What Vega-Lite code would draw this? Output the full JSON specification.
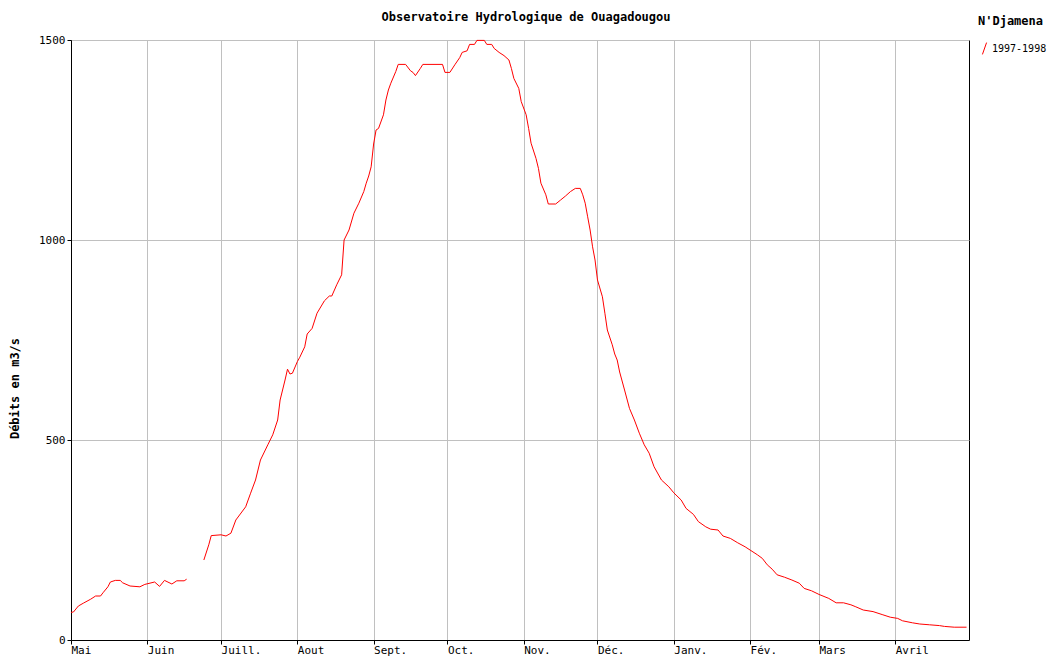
{
  "$schema": "https://vega.github.io/schema/vega-lite/v6.json",
  "description": "Débits journaliers à N'Djamena, 1997-1998.",
  "autosize": "none",
  "width": 898,
  "height": 600,
  "padding": {"left": 71, "top": 40, "right": 81, "bottom": 20},
  "background": "white",
  "title": {
    "text": "Observatoire Hydrologique de Ouagadougou",
    "font": "DejaVu Sans Mono",
    "fontSize": 12,
    "fontWeight": "bold",
    "color": "black",
    "anchor": "middle",
    "offset": 16,
    "dy": 24,
    "dx": 6
  },
  "config": {
    "view": {"stroke": "black", "strokeWidth": 1},
    "axis": {
      "labelFont": "DejaVu Sans Mono",
      "labelFontSize": 11,
      "labelColor": "black",
      "tickColor": "black",
      "tickSize": 4,
      "domainColor": "black",
      "gridColor": "#c0c0c0",
      "gridWidth": 1
    }
  },
  "data": {
    "values": [
      {"d": 0, "q": 69}, {"d": 1, "q": 70}, {"d": 3, "q": 85}, {"d": 5, "q": 92},
      {"d": 8, "q": 102}, {"d": 10, "q": 110}, {"d": 12, "q": 110}, {"d": 13, "q": 118},
      {"d": 15, "q": 133}, {"d": 16, "q": 145}, {"d": 18, "q": 149}, {"d": 20, "q": 149},
      {"d": 21, "q": 143}, {"d": 24, "q": 135}, {"d": 28, "q": 133}, {"d": 30, "q": 139},
      {"d": 34, "q": 145}, {"d": 36, "q": 134}, {"d": 38, "q": 149}, {"d": 41, "q": 140},
      {"d": 43, "q": 148}, {"d": 46, "q": 148}, {"d": 47, "q": 152},
      {"d": 50, "q": null},
      {"d": 54, "q": 200}, {"d": 56, "q": 238}, {"d": 57, "q": 261}, {"d": 61, "q": 263},
      {"d": 63, "q": 260}, {"d": 65, "q": 267}, {"d": 67, "q": 300}, {"d": 71, "q": 333},
      {"d": 73, "q": 367}, {"d": 75, "q": 400}, {"d": 77, "q": 450}, {"d": 80, "q": 488},
      {"d": 82, "q": 513}, {"d": 84, "q": 550}, {"d": 85, "q": 600}, {"d": 87, "q": 650},
      {"d": 88, "q": 677}, {"d": 89, "q": 665}, {"d": 90, "q": 667}, {"d": 92, "q": 696},
      {"d": 93, "q": 707}, {"d": 95, "q": 733}, {"d": 96, "q": 765}, {"d": 98, "q": 779},
      {"d": 100, "q": 817}, {"d": 103, "q": 848}, {"d": 105, "q": 860}, {"d": 106, "q": 860},
      {"d": 108, "q": 888}, {"d": 110, "q": 913}, {"d": 111, "q": 1000}, {"d": 113, "q": 1025},
      {"d": 115, "q": 1067}, {"d": 117, "q": 1092}, {"d": 119, "q": 1121}, {"d": 120, "q": 1142},
      {"d": 121, "q": 1160}, {"d": 122, "q": 1183}, {"d": 123, "q": 1240}, {"d": 124, "q": 1275},
      {"d": 125, "q": 1279}, {"d": 127, "q": 1313}, {"d": 128, "q": 1350}, {"d": 129, "q": 1375},
      {"d": 130, "q": 1392}, {"d": 132, "q": 1421}, {"d": 133, "q": 1439}, {"d": 136, "q": 1439},
      {"d": 138, "q": 1423}, {"d": 139, "q": 1419}, {"d": 140, "q": 1411}, {"d": 142, "q": 1429},
      {"d": 143, "q": 1439}, {"d": 151, "q": 1439}, {"d": 152, "q": 1419}, {"d": 154, "q": 1419},
      {"d": 156, "q": 1438}, {"d": 158, "q": 1456}, {"d": 159, "q": 1469}, {"d": 161, "q": 1473},
      {"d": 162, "q": 1489}, {"d": 164, "q": 1489}, {"d": 165, "q": 1499}, {"d": 168, "q": 1499},
      {"d": 169, "q": 1489}, {"d": 171, "q": 1489}, {"d": 172, "q": 1479}, {"d": 174, "q": 1469},
      {"d": 176, "q": 1461}, {"d": 178, "q": 1450}, {"d": 179, "q": 1429}, {"d": 180, "q": 1404},
      {"d": 182, "q": 1379}, {"d": 183, "q": 1346}, {"d": 185, "q": 1313}, {"d": 186, "q": 1279},
      {"d": 187, "q": 1242}, {"d": 189, "q": 1204}, {"d": 190, "q": 1179}, {"d": 191, "q": 1142},
      {"d": 193, "q": 1113}, {"d": 194, "q": 1090}, {"d": 197, "q": 1090}, {"d": 199, "q": 1100},
      {"d": 201, "q": 1110}, {"d": 203, "q": 1121}, {"d": 205, "q": 1129}, {"d": 207, "q": 1129},
      {"d": 208, "q": 1113}, {"d": 209, "q": 1092}, {"d": 210, "q": 1058}, {"d": 211, "q": 1025},
      {"d": 212, "q": 983}, {"d": 213, "q": 950}, {"d": 214, "q": 900}, {"d": 216, "q": 858},
      {"d": 217, "q": 817}, {"d": 218, "q": 775}, {"d": 220, "q": 738}, {"d": 221, "q": 715},
      {"d": 222, "q": 700}, {"d": 223, "q": 670}, {"d": 225, "q": 625}, {"d": 227, "q": 579},
      {"d": 229, "q": 550}, {"d": 231, "q": 517}, {"d": 233, "q": 488}, {"d": 235, "q": 467},
      {"d": 237, "q": 433}, {"d": 240, "q": 400}, {"d": 243, "q": 383}, {"d": 245, "q": 368},
      {"d": 248, "q": 350}, {"d": 250, "q": 329}, {"d": 253, "q": 314}, {"d": 255, "q": 296},
      {"d": 258, "q": 283}, {"d": 260, "q": 277}, {"d": 263, "q": 275}, {"d": 265, "q": 260},
      {"d": 268, "q": 254}, {"d": 271, "q": 243}, {"d": 274, "q": 233}, {"d": 276, "q": 225},
      {"d": 279, "q": 213}, {"d": 281, "q": 204}, {"d": 283, "q": 188}, {"d": 285, "q": 177},
      {"d": 287, "q": 163}, {"d": 290, "q": 157}, {"d": 293, "q": 150}, {"d": 296, "q": 142},
      {"d": 298, "q": 129}, {"d": 301, "q": 123}, {"d": 304, "q": 114}, {"d": 308, "q": 104},
      {"d": 311, "q": 93}, {"d": 314, "q": 93}, {"d": 317, "q": 88}, {"d": 319, "q": 83},
      {"d": 322, "q": 75}, {"d": 326, "q": 71}, {"d": 330, "q": 63}, {"d": 333, "q": 57},
      {"d": 336, "q": 54}, {"d": 338, "q": 48}, {"d": 342, "q": 43}, {"d": 345, "q": 40},
      {"d": 349, "q": 38}, {"d": 353, "q": 36}, {"d": 355, "q": 34}, {"d": 359, "q": 32},
      {"d": 364, "q": 32}
    ]
  },
  "mark": {"type": "line", "strokeWidth": 1, "interpolate": "linear"},
  "encoding": {
    "x": {
      "field": "d",
      "type": "quantitative",
      "scale": {"domain": [0, 365], "nice": false, "zero": false},
      "axis": {
        "title": null,
        "values": [0, 31, 61, 92, 123, 153, 184, 214, 245, 276, 304, 335],
        "labelExpr": "{'0':'Mai','31':'Juin','61':'Juill.','92':'Aout','123':'Sept.','153':'Oct.','184':'Nov.','214':'Déc.','245':'Janv.','276':'Fév.','304':'Mars','335':'Avril'}[datum.value + '']",
        "labelAlign": "left",
        "labelPadding": 0,
        "labelFlush": false,
        "labelOverlap": false,
        "grid": true
      }
    },
    "y": {
      "field": "q",
      "type": "quantitative",
      "scale": {"domain": [0, 1500], "nice": false},
      "axis": {
        "title": "Débits en m3/s",
        "titleFont": "DejaVu Sans Mono",
        "titleFontSize": 12,
        "titleFontWeight": "bold",
        "titleColor": "black",
        "titleAngle": -90,
        "titleAlign": "center",
        "titleBaseline": "middle",
        "titleX": -57,
        "titleY": 348,
        "values": [0, 500, 1000, 1500],
        "format": "d",
        "labelPadding": 2,
        "labelFlush": false,
        "grid": true
      }
    },
    "color": {
      "datum": "1997-1998",
      "type": "nominal",
      "scale": {"range": ["#ff0000"]},
      "legend": {
        "title": "N'Djamena",
        "titleFont": "DejaVu Sans Mono",
        "titleFontSize": 12,
        "titleFontWeight": "bold",
        "titleColor": "black",
        "titlePadding": 14,
        "labelFont": "DejaVu Sans Mono",
        "labelFontSize": 10,
        "labelColor": "black",
        "symbolType": "M-0.35,1L0.35,-1",
        "symbolSize": 140,
        "symbolStrokeWidth": 1,
        "labelOffset": 1,
        "orient": "none",
        "legendX": 907,
        "legendY": -24
      }
    }
  }
}
